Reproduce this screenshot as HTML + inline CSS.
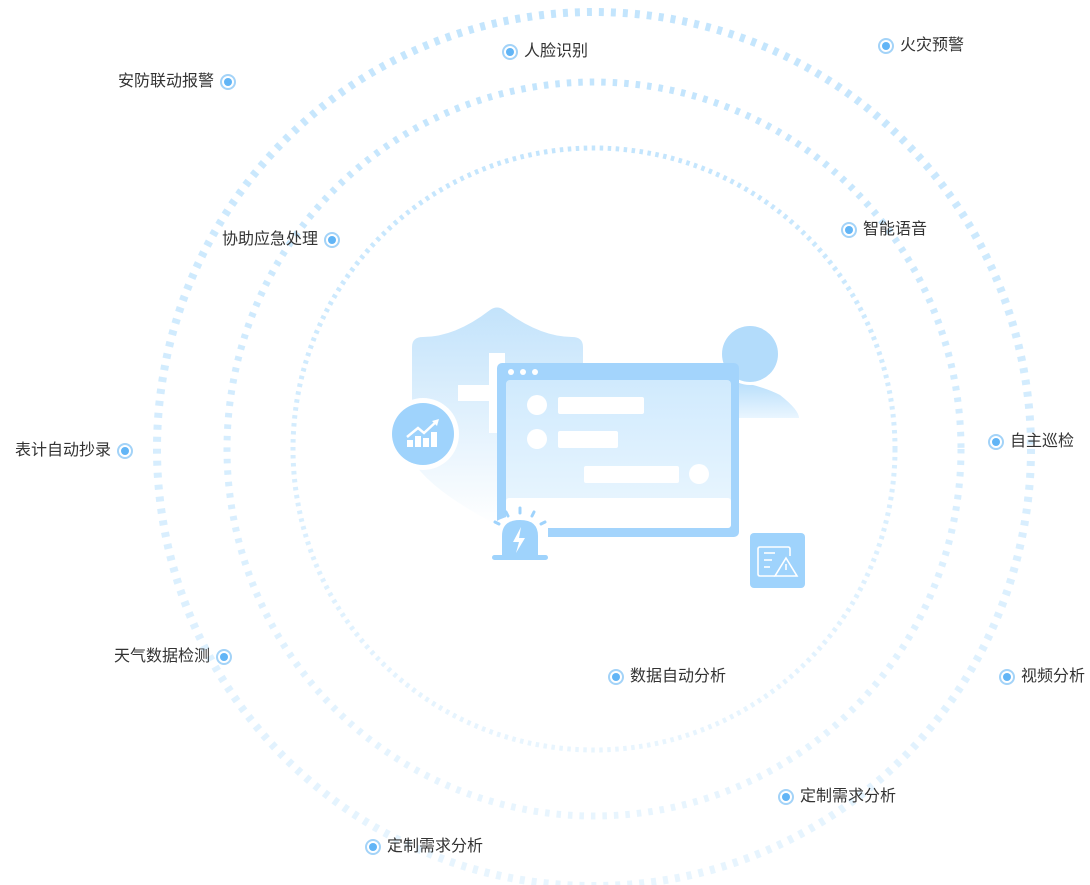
<!DOCTYPE html>
<html><head><meta charset="utf-8"><style>
html,body{margin:0;padding:0;background:#fff;width:1090px;height:885px;overflow:hidden;font-family:"Liberation Sans","Noto Sans CJK SC",sans-serif}
.l{position:absolute;font-size:16px;color:#333;line-height:18px;white-space:nowrap;display:flex;align-items:center}
.m{width:12px;height:12px;border:2px solid #a3d3f8;border-radius:50%;box-sizing:content-box;position:relative;background:#fff}
.m:after{content:"";position:absolute;left:2px;top:2px;width:8px;height:8px;border-radius:50%;background:#62b5f6}
.l .m{margin:0 6px 0 0}
.r .m{margin:0 0 0 6px}
</style></head><body>
<svg width="1090" height="885" style="position:absolute;left:0;top:0">
<defs>
<linearGradient id="rg" x1="0" y1="0" x2="0" y2="1"><stop offset="0" stop-color="#c3e5fd"/><stop offset="1" stop-color="#e8f5fe"/></linearGradient>
<linearGradient id="sg" x1="0" y1="0" x2="0" y2="1"><stop offset="0" stop-color="#c3e3fb"/><stop offset="1" stop-color="#fff"/></linearGradient>
<linearGradient id="pg" x1="0" y1="0" x2="0" y2="1"><stop offset="0" stop-color="#d0eafd"/><stop offset="1" stop-color="#ecf7ff"/></linearGradient>
<linearGradient id="hg" x1="0" y1="0" x2="0" y2="1"><stop offset="0" stop-color="#b5ddfb"/><stop offset="1" stop-color="#eaf6ff"/></linearGradient>
</defs>
<circle cx="594" cy="449" r="437" fill="none" stroke="url(#rg)" stroke-width="8" stroke-dasharray="5 7"/>
<circle cx="594" cy="449" r="367" fill="none" stroke="url(#rg)" stroke-width="7" stroke-dasharray="4.5 7"/>
<circle cx="594" cy="449" r="301" fill="none" stroke="url(#rg)" stroke-width="5" stroke-dasharray="3.5 4.5"/>
<path d="M412 347 Q412 337 423 337 Q455 337 490 310 Q497 305 504 310 Q540 337 572 337 Q583 337 583 347 L583 420 Q583 470 497 525 Q430 490 412 460 Z" fill="url(#sg)"/>
<rect x="489" y="353" width="16" height="80" fill="#fff"/>
<rect x="458" y="385" width="31" height="16" fill="#fff"/>
<path d="M730 380 Q760 385 780 395 Q799 410 799 418 L730 418 Z" fill="url(#hg)"/>
<circle cx="750" cy="354" r="31" fill="#fff"/>
<circle cx="750" cy="354" r="28" fill="#b3dcfb"/>
<rect x="497" y="363" width="242" height="174" rx="5" fill="#a3d4fc"/>
<rect x="506" y="380" width="225" height="148" rx="4" fill="url(#pg)"/>
<rect x="506" y="498" width="225" height="30" rx="3" fill="#fff"/>
<circle cx="511" cy="372" r="3" fill="#fff"/><circle cx="523" cy="372" r="3" fill="#fff"/><circle cx="535" cy="372" r="3" fill="#fff"/>
<circle cx="537" cy="405" r="10" fill="#fff"/><rect x="558" y="397" width="86" height="17" rx="2" fill="#fff"/>
<circle cx="537" cy="439" r="10" fill="#fff"/><rect x="558" y="431" width="60" height="17" rx="2" fill="#fff"/>
<rect x="584" y="466" width="95" height="17" rx="2" fill="#fff"/><circle cx="699" cy="474" r="10" fill="#fff"/>
<circle cx="423" cy="434" r="36" fill="#fff"/>
<circle cx="423" cy="434" r="31" fill="#9fd3fc"/>
<g fill="#fff"><rect x="407" y="440" width="6" height="7"/><rect x="415" y="436" width="6" height="11"/><rect x="423" y="438" width="6" height="9"/><rect x="431" y="432" width="6" height="15"/></g>
<polyline points="407,437 418,428 424,433 437,421" fill="none" stroke="#fff" stroke-width="2.5"/>
<polygon points="432,421 439,419 437,426" fill="#fff"/>
<path d="M490 525 Q519 505 548 525 L548 540 L490 540 Z" fill="#fff"/>
<path d="M502 558 L502 536 Q502 520 520 520 Q538 520 538 536 L538 558 Z" fill="#9fd3fc"/>
<rect x="492" y="555" width="56" height="5" rx="2.5" fill="#9fd3fc"/>
<polygon points="521,527 513,542 519,542 516,553 525,538 519,538" fill="#fff"/>
<g stroke="#9fd3fc" stroke-width="3" stroke-linecap="round"><line x1="520" y1="508" x2="520" y2="513"/><line x1="506" y1="512" x2="508" y2="516"/><line x1="534" y1="512" x2="532" y2="516"/><line x1="495" y1="522" x2="499" y2="524"/><line x1="545" y1="522" x2="541" y2="524"/></g>
<rect x="750" y="533" width="55" height="55" rx="4" fill="#9fd3fc"/>
<g fill="none" stroke="#fff" stroke-width="1.6"><path d="M775 576 L760 576 Q758 576 758 574 L758 549 Q758 547 760 547 L788 547 Q790 547 790 549 L790 556"/><line x1="764" y1="553" x2="775" y2="553"/><line x1="764" y1="560" x2="772" y2="560"/><line x1="764" y1="567" x2="770" y2="567"/><path d="M786 558 L797 576 L775 576 Z"/><line x1="786" y1="564" x2="786" y2="570"/></g>
</svg>
<div class="l" style="left:502px;top:43px"><span class="m"></span>人脸识别</div>
<div class="l" style="left:878px;top:37px"><span class="m"></span>火灾预警</div>
<div class="l r" style="left:118px;top:73px">安防联动报警<span class="m"></span></div>
<div class="l" style="left:841px;top:221px"><span class="m"></span>智能语音</div>
<div class="l r" style="left:222px;top:231px">协助应急处理<span class="m"></span></div>
<div class="l" style="left:988px;top:433px"><span class="m"></span>自主巡检</div>
<div class="l r" style="left:15px;top:442px">表计自动抄录<span class="m"></span></div>
<div class="l r" style="left:114px;top:648px">天气数据检测<span class="m"></span></div>
<div class="l" style="left:608px;top:668px"><span class="m"></span>数据自动分析</div>
<div class="l" style="left:999px;top:668px"><span class="m"></span>视频分析</div>
<div class="l" style="left:778px;top:788px"><span class="m"></span>定制需求分析</div>
<div class="l" style="left:365px;top:838px"><span class="m"></span>定制需求分析</div>
</body></html>
